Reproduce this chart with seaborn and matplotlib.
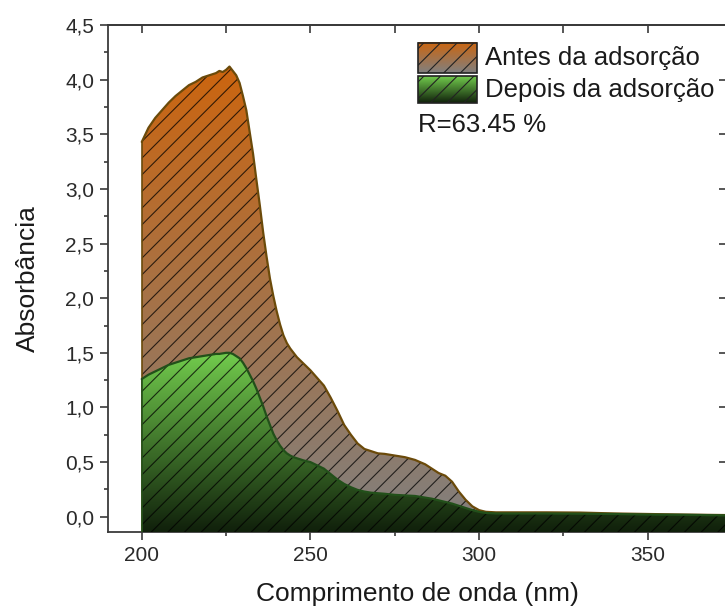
import numpy as np
import pandas as pd
import seaborn as sns
import matplotlib.pyplot as plt
from matplotlib.colors import LinearSegmentedColormap
from matplotlib.patches import Rectangle
from matplotlib.ticker import FixedLocator, FixedFormatter

# comprimento de onda (nm)
wl = [200, 202, 204, 206, 208, 210, 212, 214, 216, 218, 220, 222, 223, 224, 225,
      226, 227, 228, 229, 230, 231, 232, 233, 234, 235, 236, 237, 238, 239, 240,
      241, 242, 243, 244, 245, 246, 248, 250, 252, 254, 256, 258, 260, 262, 264,
      266, 268, 270, 272, 275, 278, 281, 284, 286, 288, 290, 292, 294, 296, 298,
      300, 302, 305, 310, 320, 330, 340, 350, 360, 374]
antes = [3.43, 3.56, 3.65, 3.72, 3.79, 3.85, 3.90, 3.95, 3.98, 4.02, 4.04, 4.06, 4.08, 4.07, 4.09,
         4.12, 4.08, 4.04, 3.97, 3.85, 3.72, 3.52, 3.32, 3.08, 2.85, 2.60, 2.38, 2.18, 2.02, 1.88,
         1.76, 1.66, 1.59, 1.54, 1.50, 1.46, 1.40, 1.34, 1.27, 1.20, 1.09, 0.97, 0.84, 0.75, 0.67,
         0.62, 0.60, 0.58, 0.575, 0.56, 0.545, 0.52, 0.48, 0.44, 0.40, 0.375, 0.32, 0.23, 0.155, 0.095,
         0.06, 0.045, 0.04, 0.04, 0.04, 0.038, 0.03, 0.025, 0.02, 0.015]
depois = [1.26, 1.30, 1.33, 1.36, 1.39, 1.41, 1.43, 1.45, 1.46, 1.47, 1.48, 1.49, 1.49, 1.495, 1.50,
          1.50, 1.49, 1.47, 1.45, 1.41, 1.36, 1.30, 1.24, 1.17, 1.09, 1.01, 0.92, 0.84, 0.76, 0.70,
          0.65, 0.61, 0.58, 0.56, 0.545, 0.535, 0.515, 0.50, 0.47, 0.44, 0.39, 0.34, 0.30, 0.27, 0.245,
          0.23, 0.22, 0.215, 0.21, 0.20, 0.195, 0.19, 0.175, 0.165, 0.15, 0.135, 0.12, 0.10, 0.08, 0.06,
          0.045, 0.035, 0.03, 0.03, 0.03, 0.028, 0.025, 0.02, 0.018, 0.012]

labels = ["Antes da adsorção", "Depois da adsorção"]
r_text = "R=63.45 %"
xticks = [200, 250, 300, 350]
xminor = [225, 275, 325]
yticks = [0.0, 0.5, 1.0, 1.5, 2.0, 2.5, 3.0, 3.5, 4.0, 4.5]
yticklabels = ["0,0", "0,5", "1,0", "1,5", "2,0", "2,5", "3,0", "3,5", "4,0", "4,5"]
yminor = [0.25, 0.75, 1.25, 1.75, 2.25, 2.75, 3.25, 3.75, 4.25]
xlim = (190, 373.5)
ylim = (-0.14, 4.5)

df = pd.DataFrame({"wl": wl, "antes": antes, "depois": depois})

sns.set_style("ticks")
plt.rcParams["font.family"] = ["Liberation Sans", "DejaVu Sans"]
plt.rcParams["hatch.linewidth"] = 0.8

fig = plt.figure(figsize=(7.25, 6.09), dpi=100)
ax = fig.add_axes([0.149, 0.1264, 0.8538, 0.8325])

# (coluna, cor topo, cor base, cor linha)
series = [("antes", "#cc650f", "#808080", "#6b4a0a"),
          ("depois", "#72cc4d", "#10200b", "#22501a")]
grad = np.linspace(0, 1, 256).reshape(-1, 1)
for i, (col, ctop, cbot, cline) in enumerate(series):
    cmap = LinearSegmentedColormap.from_list(col, [cbot, ctop])
    z = 1 + i * 3
    im = ax.imshow(grad, cmap=cmap, aspect="auto", origin="lower",
                   extent=[df.wl.min(), df.wl.max(), ylim[0], df[col].max()], zorder=z)
    poly = ax.fill_between(df.wl, df[col], ylim[0], facecolor="none",
                           edgecolor=(0, 0, 0, 0.75), hatch="//", linewidth=0, zorder=z + 1)
    im.set_clip_path(poly.get_paths()[0], transform=ax.transData)
    sns.lineplot(data=df, x="wl", y=col, color=cline, lw=1.6, ax=ax, zorder=z + 2)
    ax.plot([df.wl[0], df.wl[0]], [ylim[0], df[col][0]], color=cline, lw=1.2, zorder=z + 2)

ax.set_xlim(*xlim)
ax.set_ylim(*ylim)
ax.xaxis.set_major_locator(FixedLocator(xticks))
ax.xaxis.set_minor_locator(FixedLocator(xminor))
ax.yaxis.set_major_locator(FixedLocator(yticks))
ax.yaxis.set_major_formatter(FixedFormatter(yticklabels))
ax.yaxis.set_minor_locator(FixedLocator(yminor))

spine_c = "#3a3a3a"
for s in ax.spines.values():
    s.set_color(spine_c)
    s.set_linewidth(1.3)
ax.tick_params(which="major", direction="out", length=6, width=1.2, color=spine_c,
               labelsize=15, labelcolor="#2a2a2a", pad=4)
ax.tick_params(which="minor", direction="out", length=3, width=1.2, color=spine_c)

top = ax.secondary_xaxis("top")
top.xaxis.set_major_locator(FixedLocator(xticks))
top.xaxis.set_minor_locator(FixedLocator(xminor))
top.tick_params(which="both", direction="in", length=6, width=1.2, color=spine_c, labeltop=False)
top.spines["top"].set_color(spine_c)
top.spines["top"].set_linewidth(1.3)
right = ax.secondary_yaxis("right")
right.yaxis.set_major_locator(FixedLocator(yticks))
right.yaxis.set_minor_locator(FixedLocator([]))
right.tick_params(which="both", direction="in", length=6, width=1.2, color=spine_c, labelright=False)

ax.set_xlabel("Comprimento de onda (nm)", fontsize=19, color="#1a1a1a", labelpad=12)
ax.set_ylabel("Absorbância", fontsize=19, color="#1a1a1a", labelpad=18)

# legenda desenhada à mão para manter gradiente + hachura
lx, lw_ = 0.5008, 0.0953
rows = [(0.9053, 0.0592, 0.935), (0.8462, 0.0532, 0.872)]
for (col, ctop, cbot, cline), lab, (y0, h, ty) in zip(series, labels, rows):
    cmap = LinearSegmentedColormap.from_list(col + "_leg", [cbot, ctop])
    ax.imshow(grad, cmap=cmap, aspect="auto", origin="lower",
              extent=[lx, lx + lw_, y0, y0 + h], transform=ax.transAxes, zorder=10)
    ax.add_patch(Rectangle((lx, y0), lw_, h, transform=ax.transAxes, facecolor="none",
                           edgecolor="#222222", hatch="//", linewidth=1.2, zorder=11))
    ax.text(0.609, ty, lab, transform=ax.transAxes, fontsize=18.5, va="center",
            ha="left", color="#1a1a1a", zorder=12)
ax.text(lx, 0.803, r_text, transform=ax.transAxes, fontsize=18.5, va="center",
        ha="left", color="#1a1a1a", zorder=12)

fig.savefig("out.png", dpi=100)
